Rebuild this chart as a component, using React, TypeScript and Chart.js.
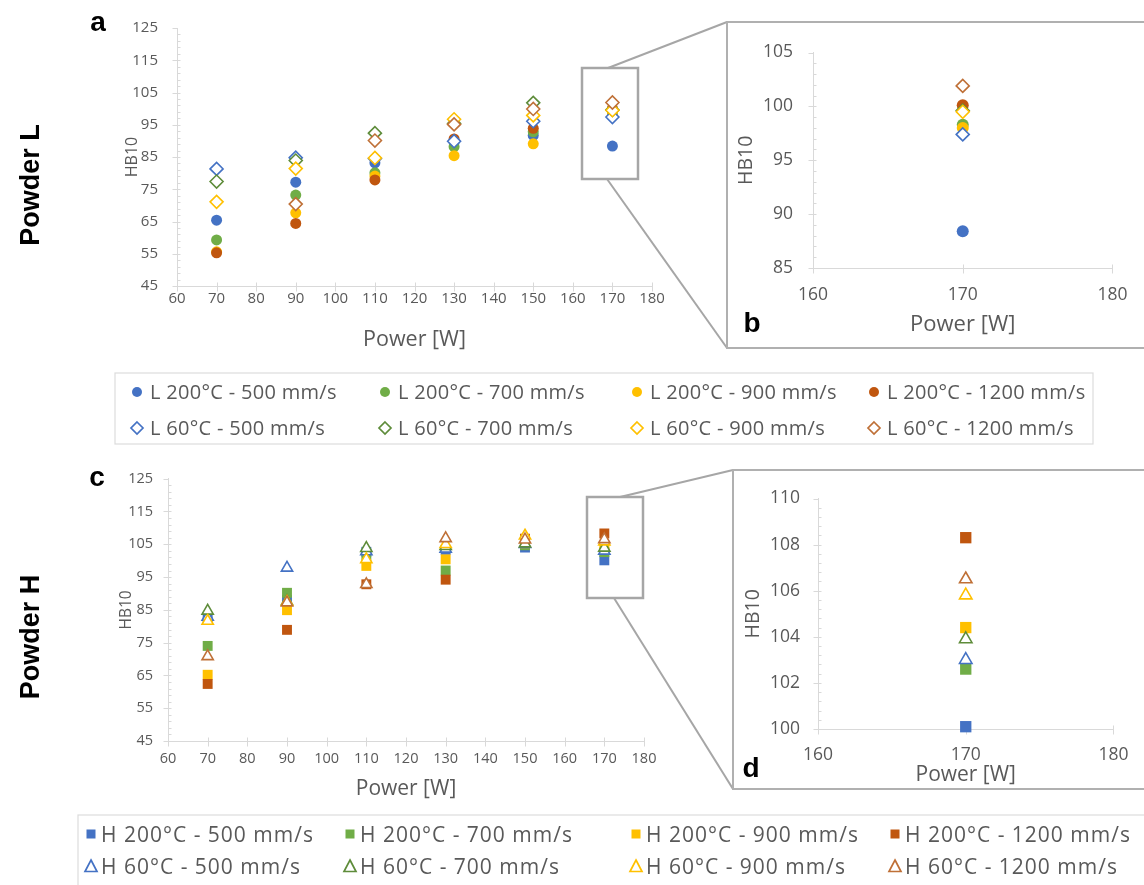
import React, { useEffect, useRef } from 'react';
import { Chart, registerables } from 'chart.js';

Chart.register(...registerables);

// ---------------- data ----------------
const POWER = [70, 90, 110, 130, 150, 170];
const INSET_POWER = 170;

const L200_500 = [65.4, 77.2, 83.2, 89.6, 91.7, 88.4];
const L200_700 = [59.3, 73.2, 80.1, 88.2, 92.8, 98.3];
const L200_900 = [55.6, 67.7, 79.1, 85.4, 89.1, 98.0];
const L200_1200 = [55.3, 64.4, 77.9, 90.6, 93.9, 100.1];
const L60_500 = [81.3, 84.8, 84.5, 89.9, 96.1, 97.4];
const L60_700 = [77.4, 83.9, 92.4, 95.4, 101.8, 99.6];
const L60_900 = [71.1, 81.4, 84.7, 96.7, 97.9, 99.5];
const L60_1200 = [null, 70.4, 90.1, 95.1, 99.9, 101.9];

const H200_500 = [82.6, 88.0, 102.7, 103.3, 104.0, 100.1];
const H200_700 = [74.0, 90.2, 101.0, 97.0, 104.7, 102.6];
const H200_900 = [65.2, 84.9, 98.4, 100.4, 105.3, 104.4];
const H200_1200 = [62.4, 78.9, 92.8, 94.2, 106.7, 108.3];
const H60_500 = [82.8, 97.8, 102.8, 103.6, 105.0, 103.0];
const H60_700 = [84.7, 87.6, 103.8, 104.4, 105.2, 103.9];
const H60_900 = [81.6, 87.4, 100.4, 105.0, 107.6, 105.8];
const H60_1200 = [70.8, 87.2, 92.8, 106.8, 106.4, 106.5];

const L_NAMES = [
  'L 200°C - 500 mm/s', 'L 200°C - 700 mm/s', 'L 200°C - 900 mm/s', 'L 200°C - 1200 mm/s',
  'L 60°C - 500 mm/s', 'L 60°C - 700 mm/s', 'L 60°C - 900 mm/s', 'L 60°C - 1200 mm/s',
];
const H_NAMES = [
  'H 200°C - 500 mm/s', 'H 200°C - 700 mm/s', 'H 200°C - 900 mm/s', 'H 200°C - 1200 mm/s',
  'H 60°C - 500 mm/s', 'H 60°C - 700 mm/s', 'H 60°C - 900 mm/s', 'H 60°C - 1200 mm/s',
];
const L_VALUES = [L200_500, L200_700, L200_900, L200_1200, L60_500, L60_700, L60_900, L60_1200];
const H_VALUES = [H200_500, H200_700, H200_900, H200_1200, H60_500, H60_700, H60_900, H60_1200];

const FILL_COLORS = ['#4472C4', '#70AD47', '#FFC000', '#C0560F'];
const HOLLOW_COLORS = ['#4472C4', '#5E8C3A', '#FFC000', '#BF7037'];

const X_LABEL = 'Power [W]';
const Y_LABEL = 'HB10';

// ---------------- styles ----------------
const FONT = "'Open Sans', sans-serif";
const TEXT = '#595959';
const AXIS = '#d9d9d9';
const FRAME = '#b0b0b0';

type Shape = 'circle' | 'rectRot' | 'rect' | 'triangle';

function buildDatasets(values: (number | null)[][], names: string[], filledShape: Shape, hollowShape: Shape,
  filledR: number, hollowR: number, onlyInset: boolean) {
  return values.map((vals, i) => {
    const filled = i < 4;
    const color = filled ? FILL_COLORS[i] : HOLLOW_COLORS[i - 4];
    const data = POWER.map((p, k) => ({ x: p, y: vals[k] }))
      .filter((d) => d.y !== null && (!onlyInset || d.x === INSET_POWER));
    return {
      label: names[i],
      data,
      order: 8 - i,
      pointStyle: filled ? filledShape : hollowShape,
      pointRadius: filled ? filledR : hollowR,
      pointHoverRadius: filled ? filledR : hollowR,
      backgroundColor: filled ? color : '#ffffff',
      borderColor: color,
      pointBorderWidth: filled ? 0 : 1.6,
      borderWidth: filled ? 0 : 1.6,
      showLine: false,
      clip: false,
    };
  });
}

const excelTicks = {
  id: 'excelTicks',
  beforeDatasetsDraw(chart: any, _args: any, opts: any) {
    const { ctx } = chart;
    const xs = chart.scales.x;
    const ys = chart.scales.y;
    const ax = Math.round(xs.left) + 0.5;
    const ay = Math.round(ys.bottom) + 0.5;
    ctx.save();
    ctx.strokeStyle = AXIS;
    ctx.lineWidth = 1;
    ctx.beginPath();
    for (const t of ys.ticks) {
      const py = Math.round(ys.getPixelForValue(t.value)) + 0.5;
      ctx.moveTo(ax - 5, py);
      ctx.lineTo(ax, py);
    }
    const minor = opts.minor as number;
    const n = Math.round((ys.max - ys.min) / minor);
    for (let k = 1; k < n; k++) {
      const py = Math.round(ys.getPixelForValue(ys.min + k * minor)) + 0.5;
      ctx.moveTo(ax, py);
      ctx.lineTo(ax + 3, py);
    }
    for (const t of xs.ticks) {
      const px = Math.round(xs.getPixelForValue(t.value)) + 0.5;
      ctx.moveTo(px, ay - 4);
      ctx.lineTo(px, ay + 5);
    }
    ctx.stroke();
    ctx.restore();
  },
};

type PanelProps = {
  left: number; top: number; width: number; height: number;
  plotLeft: number; plotRight: number; plotTop: number; plotBottom: number;
  datasets: any[];
  xMin: number; xMax: number; xStep: number;
  yMin: number; yMax: number; yStep: number; yMinor: number;
  tickSize: number; yTickPad: number; xTickPad: number;
  yTitleSize: number; yTitlePad: number;
  xTitleSize: number; xTitlePad: number;
};

function ScatterPanel(p: PanelProps) {
  const ref = useRef<HTMLCanvasElement>(null);
  useEffect(() => {
    const yW = p.plotLeft - p.left;
    const xH = p.top + p.height - p.plotBottom;
    const chart = new Chart(ref.current as HTMLCanvasElement, {
      type: 'scatter',
      data: { datasets: p.datasets },
      plugins: [excelTicks],
      options: {
        responsive: false,
        animation: false,
        devicePixelRatio: 1,
        events: [],
        layout: {
          autoPadding: false,
          padding: { left: 0, top: p.plotTop - p.top, right: p.left + p.width - p.plotRight, bottom: 0 },
        },
        plugins: {
          legend: { display: false },
          tooltip: { enabled: false },
          excelTicks: { minor: p.yMinor },
        } as any,
        scales: {
          x: {
            type: 'linear',
            position: 'bottom',
            min: p.xMin,
            max: p.xMax,
            offset: false,
            grid: { display: false, drawTicks: false },
            border: { display: true, color: AXIS, width: 1 },
            ticks: {
              stepSize: p.xStep,
              color: TEXT,
              font: { family: FONT, size: p.tickSize },
              padding: p.xTickPad,
              autoSkip: false,
              maxRotation: 0,
              minRotation: 0,
            },
            title: {
              display: true,
              text: X_LABEL,
              color: TEXT,
              font: { family: FONT, size: p.xTitleSize },
              padding: { top: 0, bottom: p.xTitlePad },
            },
            afterFit: (s: any) => { s.height = xH; },
          },
          y: {
            type: 'linear',
            position: 'left',
            min: p.yMin,
            max: p.yMax,
            grid: { display: false, drawTicks: false },
            border: { display: true, color: AXIS, width: 1 },
            ticks: {
              stepSize: p.yStep,
              color: TEXT,
              font: { family: FONT, size: p.tickSize },
              padding: p.yTickPad,
              autoSkip: false,
            },
            title: {
              display: true,
              text: Y_LABEL,
              color: TEXT,
              font: { family: FONT, size: p.yTitleSize },
              padding: { top: p.yTitlePad, bottom: 0 },
            },
            afterFit: (s: any) => { s.width = yW; },
          },
        },
      } as any,
    });
    return () => chart.destroy();
  }, []);
  return (
    <canvas
      ref={ref}
      width={p.width}
      height={p.height}
      style={{ position: 'absolute', left: p.left, top: p.top, width: p.width, height: p.height }}
    />
  );
}

function Marker({ shape, color }: { shape: string; color: string }) {
  if (shape === 'circle') {
    return <svg width="14" height="14" style={{ display: 'block' }}><circle cx="7" cy="7" r="5" fill={color} /></svg>;
  }
  if (shape === 'diamond') {
    return <svg width="16" height="16" style={{ display: 'block' }}><polygon points="8,2 14,8 8,14 2,8" fill="#fff" stroke={color} strokeWidth="1.7" /></svg>;
  }
  if (shape === 'square') {
    return <svg width="14" height="14" style={{ display: 'block' }}><rect x="2.5" y="2.5" width="9" height="9" fill={color} /></svg>;
  }
  return <svg width="16" height="16" style={{ display: 'block' }}><polygon points="8,2 14,13.5 2,13.5" fill="#fff" stroke={color} strokeWidth="1.7" /></svg>;
}

function Legend({ names, cols, rows, textOffsets, filledShape, hollowShape, fontSize, spacing }: any) {
  return (
    <>
      {names.map((name: string, i: number) => {
        const filled = i < 4;
        const col = i % 4;
        const row = filled ? 0 : 1;
        const color = filled ? FILL_COLORS[i] : HOLLOW_COLORS[i - 4];
        const mx = cols[col];
        const my = rows[row];
        return (
          <React.Fragment key={name}>
            <div style={{ position: 'absolute', left: mx - 8, top: my - 8, width: 16, height: 16, display: 'flex', alignItems: 'center', justifyContent: 'center' }}>
              <Marker shape={filled ? filledShape : hollowShape} color={color} />
            </div>
            <div style={{
              position: 'absolute', left: mx + textOffsets, top: my - 15, height: 30, lineHeight: '30px',
              fontFamily: FONT, fontSize, color: TEXT, whiteSpace: 'nowrap', letterSpacing: spacing,
            }}>{name}</div>
          </React.Fragment>
        );
      })}
    </>
  );
}

const boldLabel = (text: string, x: number, y: number, size: number) => (
  <div style={{
    position: 'absolute', left: x - 20, top: y - 20, width: 40, height: 40, lineHeight: '40px', textAlign: 'center',
    fontFamily: "'Liberation Sans', Arial, sans-serif", fontWeight: 'bold', fontSize: size, color: '#000',
  }}>{text}</div>
);

const sideLabel = (text: string, x: number, y: number) => (
  <div style={{
    position: 'absolute', left: x - 100, top: y - 18, width: 200, height: 36, lineHeight: '36px', textAlign: 'center',
    fontFamily: "'Liberation Sans', Arial, sans-serif", fontWeight: 'bold', fontSize: 27, color: '#000',
    transform: 'rotate(-90deg)',
  }}>{text}</div>
);

export default function App() {
  const dsA = buildDatasets(L_VALUES, L_NAMES, 'circle', 'rectRot', 5.5, 6.5, false);
  const dsB = buildDatasets(L_VALUES, L_NAMES, 'circle', 'rectRot', 6, 6.5, true);
  const dsC = buildDatasets(H_VALUES, H_NAMES, 'rect', 'triangle', 7, 6.5, false);
  const dsD = buildDatasets(H_VALUES, H_NAMES, 'rect', 'triangle', 8, 7.2, true);

  return (
    <div style={{ position: 'absolute', left: 0, top: 0, width: 1144, height: 885, overflow: 'hidden', background: '#fff' }}>
      <ScatterPanel left={90} top={0} width={610} height={362}
        plotLeft={177} plotRight={652} plotTop={20} plotBottom={286}
        datasets={dsA} xMin={60} xMax={180} xStep={10} yMin={45} yMax={125} yStep={10} yMinor={2}
        tickSize={15} yTickPad={19} xTickPad={3.5} yTitleSize={16} yTitlePad={33} xTitleSize={21.5} xTitlePad={9} />
      <ScatterPanel left={733} top={22} width={411} height={323}
        plotLeft={813} plotRight={1126} plotTop={34} plotBottom={268}
        datasets={dsB} xMin={160} xMax={180} xStep={10} yMin={85} yMax={105} yStep={5} yMinor={1}
        tickSize={17.5} yTickPad={20} xTickPad={16.5} yTitleSize={19.5} yTitlePad={2} xTitleSize={22} xTitlePad={7} />
      <ScatterPanel left={85} top={455} width={605} height={350}
        plotLeft={168} plotRight={644} plotTop={474} plotBottom={741}
        datasets={dsC} xMin={60} xMax={180} xStep={10} yMin={45} yMax={125} yStep={10} yMinor={2}
        tickSize={14.5} yTickPad={15} xTickPad={9.5} yTitleSize={15.5} yTitlePad={32} xTitleSize={21} xTitlePad={3.6} />
      <ScatterPanel left={738} top={470} width={406} height={320}
        plotLeft={818} plotRight={1126} plotTop={484} plotBottom={729}
        datasets={dsD} xMin={160} xMax={180} xStep={10} yMin={100} yMax={110} yStep={2} yMinor={0.4}
        tickSize={17.5} yTickPad={18} xTickPad={15.5} yTitleSize={19.5} yTitlePad={3.3} xTitleSize={21} xTitlePad={2.4} />

      <svg width={1144} height={885} style={{ position: 'absolute', left: 0, top: 0, pointerEvents: 'none' }}>
        <rect x={582} y={68} width={56} height={111} fill="none" stroke="#a6a6a6" strokeWidth={2.5} />
        <rect x={587} y={497} width={56} height={101} fill="none" stroke="#a6a6a6" strokeWidth={2.5} />
        <line x1={608} y1={68} x2={727} y2={22} stroke="#a6a6a6" strokeWidth={2} />
        <line x1={607} y1={179} x2={727} y2={348} stroke="#a6a6a6" strokeWidth={2} />
        <line x1={620} y1={497} x2={733} y2={470} stroke="#a6a6a6" strokeWidth={2} />
        <line x1={614} y1={598} x2={733} y2={789} stroke="#a6a6a6" strokeWidth={2} />
        <rect x={727} y={22} width={430} height={326} fill="none" stroke={FRAME} strokeWidth={2} />
        <rect x={733} y={470} width={430} height={319} fill="none" stroke={FRAME} strokeWidth={2} />
        <rect x={115} y={373} width={978} height={71} fill="none" stroke="#dcdcdc" strokeWidth={1.2} />
        <rect x={78} y={815} width={1100} height={100} fill="none" stroke="#dcdcdc" strokeWidth={1.2} />
      </svg>

      <Legend names={L_NAMES} cols={[137, 385, 637, 874]} rows={[392, 428]} textOffsets={13}
        filledShape="circle" hollowShape="diamond" fontSize={20} spacing="0.3px" />
      <Legend names={H_NAMES} cols={[91, 350, 636, 895]} rows={[834, 866]} textOffsets={10}
        filledShape="square" hollowShape="triangle" fontSize={21} spacing="1px" />

      {boldLabel('a', 98, 22, 28)}
      {boldLabel('b', 752, 323, 28)}
      {boldLabel('c', 97, 477, 28)}
      {boldLabel('d', 751, 768, 28)}
      {sideLabel('Powder L', 30, 185)}
      {sideLabel('Powder H', 30, 637)}
    </div>
  );
}
